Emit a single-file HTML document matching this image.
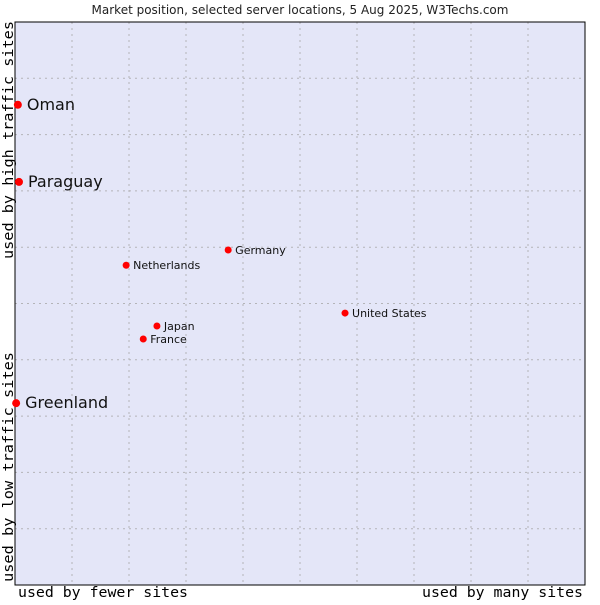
<!DOCTYPE html>
<html><head><meta charset="utf-8"><style>
body{margin:0;background:#fff;width:600px;height:600px;overflow:hidden}
svg text{font-family:"DejaVu Sans","Liberation Sans",sans-serif}
.mono{font-family:"DejaVu Sans Mono","Liberation Mono",monospace}
</style></head><body>
<svg id="chart" width="600" height="600">
<text x="300" y="14" text-anchor="middle" font-size="12" fill="#222">Market position, selected server locations, 5 Aug 2025, W3Techs.com</text>
<rect x="15" y="22" width="570" height="563" fill="#e4e6f8"/>
<g id="grid"></g>
<rect x="15" y="22" width="570" height="563" fill="none" stroke="#000" stroke-width="1"/>
<text class="mono" x="18" y="597" font-size="14.5" textLength="170" lengthAdjust="spacingAndGlyphs" fill="#000">used by fewer sites</text>
<text class="mono" x="422" y="597" font-size="14.5" textLength="161" lengthAdjust="spacingAndGlyphs" fill="#000">used by many sites</text>
<text class="mono" transform="translate(13,582) rotate(-90)" font-size="14.5" textLength="230" lengthAdjust="spacingAndGlyphs" fill="#000">used by low traffic sites</text>
<text class="mono" transform="translate(13,259) rotate(-90)" font-size="14.5" textLength="238" lengthAdjust="spacingAndGlyphs" fill="#000">used by high traffic sites</text>
<g id="points"></g>
</svg>
<script>
const names=["Oman","Paraguay","Greenland","Netherlands","Germany","United States","Japan","France"];
const xs=[0.5,0.7,0.2,19.5,37.4,57.9,24.9,22.5];
const ys=[85.3,71.6,32.3,56.8,59.5,48.3,46.0,43.7];
const big=[true,true,true,false,false,false,false,false];
const L=15,T=22,W=570,H=563;
const sx=v=>L+v/100*W, sy=v=>T+H-v/100*H;
const NS="http://www.w3.org/2000/svg";
const g=document.getElementById('grid');
for(let i=1;i<10;i++){
  const a=document.createElementNS(NS,'line');
  a.setAttribute('x1',sx(i*10));a.setAttribute('x2',sx(i*10));a.setAttribute('y1',T);a.setAttribute('y2',T+H);
  a.setAttribute('stroke','#b4b4b8');a.setAttribute('stroke-dasharray','2,4');
  
  
  g.appendChild(a);
  const b=document.createElementNS(NS,'line');
  b.setAttribute('y1',sy(i*10));b.setAttribute('y2',sy(i*10));b.setAttribute('x1',L);b.setAttribute('x2',L+W);
  b.setAttribute('stroke','#b4b4b8');b.setAttribute('stroke-dasharray','2,4');
  
  
  g.appendChild(b);
}
const p=document.getElementById('points');
names.forEach((n,i)=>{
  const c=document.createElementNS(NS,'circle');
  c.setAttribute('cx',sx(xs[i]));c.setAttribute('cy',sy(ys[i]));c.setAttribute('r',big[i]?4:3.5);c.setAttribute('fill','#f00');
  
  
  p.appendChild(c);
  const t=document.createElementNS(NS,'text');
  t.setAttribute('x',sx(xs[i])+(big[i]?9:7));t.setAttribute('y',sy(ys[i])+(big[i]?5:4));
  t.setAttribute('font-size',big[i]?16:11);t.setAttribute('fill','#111');
  t.textContent=n;
  
  
  p.appendChild(t);
});
</script>
</body></html>
